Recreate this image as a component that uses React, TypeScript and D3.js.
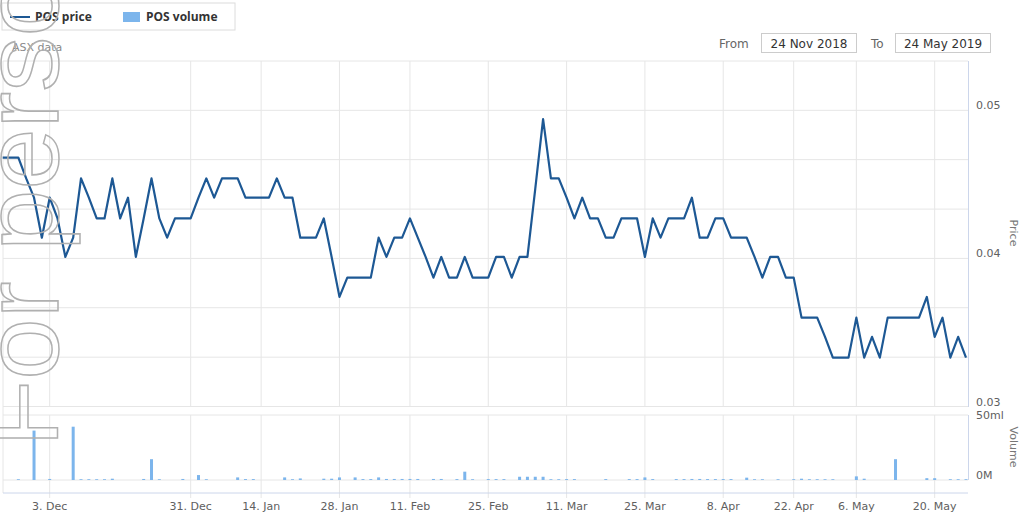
import * as d3 from "d3"

// trading calendar (ASX), 23 Nov 2018 – 24 May 2019
const START = "2018-11-23"
const END = "2019-05-24"
const HOLIDAYS = ["2018-12-25", "2018-12-26", "2019-01-01", "2019-01-28", "2019-04-19", "2019-04-22", "2019-04-25"]

const TICKS = [
  { date: "2018-12-03", label: "3. Dec" },
  { date: "2018-12-31", label: "31. Dec" },
  { date: "2019-01-14", label: "14. Jan" },
  { date: "2019-01-28", label: "28. Jan" },
  { date: "2019-02-11", label: "11. Feb" },
  { date: "2019-02-25", label: "25. Feb" },
  { date: "2019-03-11", label: "11. Mar" },
  { date: "2019-03-25", label: "25. Mar" },
  { date: "2019-04-08", label: "8. Apr" },
  { date: "2019-04-22", label: "22. Apr" },
  { date: "2019-05-06", label: "6. May" },
  { date: "2019-05-20", label: "20. May" },
]

// closing price, one per trading day
const PRICE = [
  0.0468, 0.0468, 0.0468, 0.0454, 0.0441, 0.0414, 0.0441, 0.0427, 0.0401, 0.0414,
  0.0454, 0.0441, 0.0427, 0.0427, 0.0454, 0.0427, 0.0441, 0.0401, 0.0427, 0.0454,
  0.0427, 0.0414, 0.0427, 0.0427, 0.0427, 0.0441, 0.0454, 0.0441, 0.0454, 0.0454,
  0.0454, 0.0441, 0.0441, 0.0441, 0.0441, 0.0454, 0.0441, 0.0441, 0.0414, 0.0414,
  0.0414, 0.0427, 0.0401, 0.0374, 0.0387, 0.0387, 0.0387, 0.0387, 0.0414, 0.0401,
  0.0414, 0.0414, 0.0427, 0.0414, 0.0401, 0.0387, 0.0401, 0.0387, 0.0387, 0.0401,
  0.0387, 0.0387, 0.0387, 0.0401, 0.0401, 0.0387, 0.0401, 0.0401, 0.0447, 0.0494,
  0.0454, 0.0454, 0.0441, 0.0427, 0.0441, 0.0427, 0.0427, 0.0414, 0.0414, 0.0427,
  0.0427, 0.0427, 0.0401, 0.0427, 0.0414, 0.0427, 0.0427, 0.0427, 0.0441, 0.0414,
  0.0414, 0.0427, 0.0427, 0.0414, 0.0414, 0.0414, 0.0401, 0.0387, 0.0401, 0.0401,
  0.0387, 0.0387, 0.036, 0.036, 0.036, 0.0347, 0.0333, 0.0333, 0.0333, 0.036,
  0.0333, 0.0347, 0.0333, 0.036, 0.036, 0.036, 0.036, 0.036, 0.0374, 0.0347,
  0.036, 0.0333, 0.0347, 0.0333,
]

// volume in millions of shares
const VOLUME = [
  0, 0, 0.6, 0, 38, 0, 0.8, 0, 0, 41,
  0.6, 0.6, 0.6, 0.6, 1.0, 0, 0, 0, 0.8, 16,
  0.6, 0, 0, 0.8, 0, 3.8, 0.6, 0, 0, 0,
  2, 0.7, 0.7, 0, 0, 0, 2, 0.6, 1.2, 0,
  0, 1, 1, 2, 0, 2, 0.7, 0.7, 2, 0.8,
  0.8, 0.8, 0.8, 0.8, 0, 0.8, 0.8, 0, 0.7, 6.4,
  0.6, 0, 0.7, 0.7, 0.7, 0, 2.5, 2.5, 2.5, 2.5,
  0.6, 0.6, 0.7, 0.7, 0, 0, 0, 0.7, 0, 0,
  0.7, 0.7, 2, 0.7, 0, 0, 0.7, 0.7, 0.8, 0.8,
  0.7, 0.7, 0.7, 0.7, 0, 1.8, 0.6, 0.6, 0, 0.6,
  0, 0.6, 1, 0.6, 0.6, 0.6, 0.6, 0, 0, 2.8,
  1, 0, 0, 0, 16, 0, 0, 0, 1.4, 1.4,
  0, 0.6, 0.6, 0.6,
]

const PRICE_TICKS = [0.03, 0.03333, 0.03667, 0.04, 0.04333, 0.04667, 0.05, 0.05333]
const PRICE_LABELS = [0.03, 0.04, 0.05]

const W = 1022
const H = 512
const PLOT = { left: 3, right: 968, priceTop: 61, priceBottom: 407, volTop: 415, volBottom: 480, axisY: 493 }

const fmt = d3.utcFormat("%Y-%m-%d")
const days = d3.utcDay
  .range(new Date(START + "T00:00:00Z"), d3.utcDay.offset(new Date(END + "T00:00:00Z"), 1))
  .filter((d) => d.getUTCDay() !== 0 && d.getUTCDay() !== 6 && !HOLIDAYS.includes(fmt(d)))
  .map(fmt)

const x = d3.scalePoint<string>().domain(days).range([2.7, 966])
const yPrice = d3.scaleLinear().domain([0.03, 0.05333]).range([406.5, PLOT.priceTop])
const yVol = d3.scaleLinear().domain([0, 50]).range([PLOT.volBottom, PLOT.volTop])

// ticks on holidays snap to the next trading day
const tickX = (date: string) => x(days.find((d) => d >= date) as string) as number

const line = d3
  .line<number>()
  .x((_, i) => x(days[i]) as number)
  .y((d) => yPrice(d))

const LINE_COLOR = "#1d5894"
const VOL_COLOR = "#7cb5ec"
const GRID = "#e6e6e6"
const AXIS = "#ccd6eb"
const LABEL = "#606060"
const SANS = "'DejaVu Sans', Verdana, sans-serif"

export default function App() {
  return (
    <svg width={W} height={H} style={{ position: "absolute", left: 0, top: 0, background: "#fff" }} fontFamily={SANS}>
      <rect width={W} height={H} fill="#fff" />

      {/* legend */}
      <rect x={2} y={3} width={233} height={27} fill="none" stroke="#dcdcdc" />
      <line x1={10} x2={30} y1={17} y2={17} stroke={LINE_COLOR} strokeWidth={2} />
      <text x={35} y={21} fontSize={12} fontWeight="bold" fill="#333" fontFamily="'Open Sans', sans-serif">POS price</text>
      <rect x={123} y={12} width={17} height={10} fill={VOL_COLOR} />
      <text x={146} y={21} fontSize={12} fontWeight="bold" fill="#333" fontFamily="'Open Sans', sans-serif">POS volume</text>

      <text x={12} y={51} fontSize={11} fill="#8a8a8a">ASX data</text>

      {/* range inputs */}
      <text x={719} y={48} fontSize={12} fill="#666">From</text>
      <rect x={761.5} y={33.5} width={95} height={19} fill="#fff" stroke="#ccc" />
      <text x={809} y={48} fontSize={12} fill="#333" textAnchor="middle">24 Nov 2018</text>
      <text x={871} y={48} fontSize={12} fill="#666">To</text>
      <rect x={895.5} y={33.5} width={95} height={19} fill="#fff" stroke="#ccc" />
      <text x={943} y={48} fontSize={12} fill="#333" textAnchor="middle">24 May 2019</text>

      {/* grid */}
      {PRICE_TICKS.map((v) => (
        <line key={v} x1={PLOT.left} x2={PLOT.right} y1={yPrice(v)} y2={yPrice(v)} stroke={GRID} />
      ))}
      <line x1={PLOT.left} x2={PLOT.right} y1={PLOT.volTop} y2={PLOT.volTop} stroke={GRID} />
      <line x1={PLOT.left} x2={PLOT.right} y1={yVol(0)} y2={yVol(0)} stroke={GRID} />
      <line x1={PLOT.left} x2={PLOT.left} y1={PLOT.priceTop} y2={PLOT.axisY} stroke={GRID} />
      {TICKS.map((t) => (
        <g key={t.date}>
          <line x1={tickX(t.date)} x2={tickX(t.date)} y1={PLOT.priceTop} y2={PLOT.priceBottom} stroke={GRID} />
          <line x1={tickX(t.date)} x2={tickX(t.date)} y1={PLOT.volTop} y2={PLOT.axisY + 5} stroke={GRID} />
          <text x={tickX(t.date)} y={510} fontSize={11} fill={LABEL} textAnchor="middle">{t.label}</text>
        </g>
      ))}
      <line x1={PLOT.left} x2={PLOT.right} y1={PLOT.axisY} y2={PLOT.axisY} stroke={AXIS} />

      {/* right axes */}
      <line x1={PLOT.right + 0.5} x2={PLOT.right + 0.5} y1={PLOT.priceTop} y2={PLOT.priceBottom} stroke={AXIS} />
      <line x1={PLOT.right + 0.5} x2={PLOT.right + 0.5} y1={PLOT.volTop} y2={PLOT.volBottom} stroke={AXIS} />
      {PRICE_LABELS.map((v) => (
        <text key={v} x={976} y={yPrice(v) - 1} fontSize={11} fill={LABEL}>{v.toFixed(2)}</text>
      ))}
      <text x={976} y={419} fontSize={11} fill={LABEL}>50ml</text>
      <text x={976} y={479} fontSize={11} fill={LABEL}>0M</text>
      <text transform={`translate(1010,233) rotate(90)`} fontSize={11} fill="#777" textAnchor="middle">Price</text>
      <text transform={`translate(1010,447) rotate(90)`} fontSize={11} fill="#777" textAnchor="middle">Volume</text>

      {/* volume bars */}
      {VOLUME.map((v, i) => (
        <rect key={i} x={(x(days[i]) as number) - 1.5} y={yVol(v)} width={3} height={yVol(0) - yVol(v)} fill={VOL_COLOR} />
      ))}

      {/* price line */}
      <path d={line(PRICE) ?? ""} fill="none" stroke={LINE_COLOR} strokeWidth={2.2} strokeLinejoin="round" />

      {/* watermark */}
      <text
        transform="translate(58,447) rotate(-90) scale(1.05,1)"
        fontSize={105}
        fontFamily="'Liberation Sans', Arial, sans-serif"
        fill="none"
        stroke="#b0b0b0"
        strokeWidth={1.5}
      >
        For personal use only
      </text>
    </svg>
  )
}
